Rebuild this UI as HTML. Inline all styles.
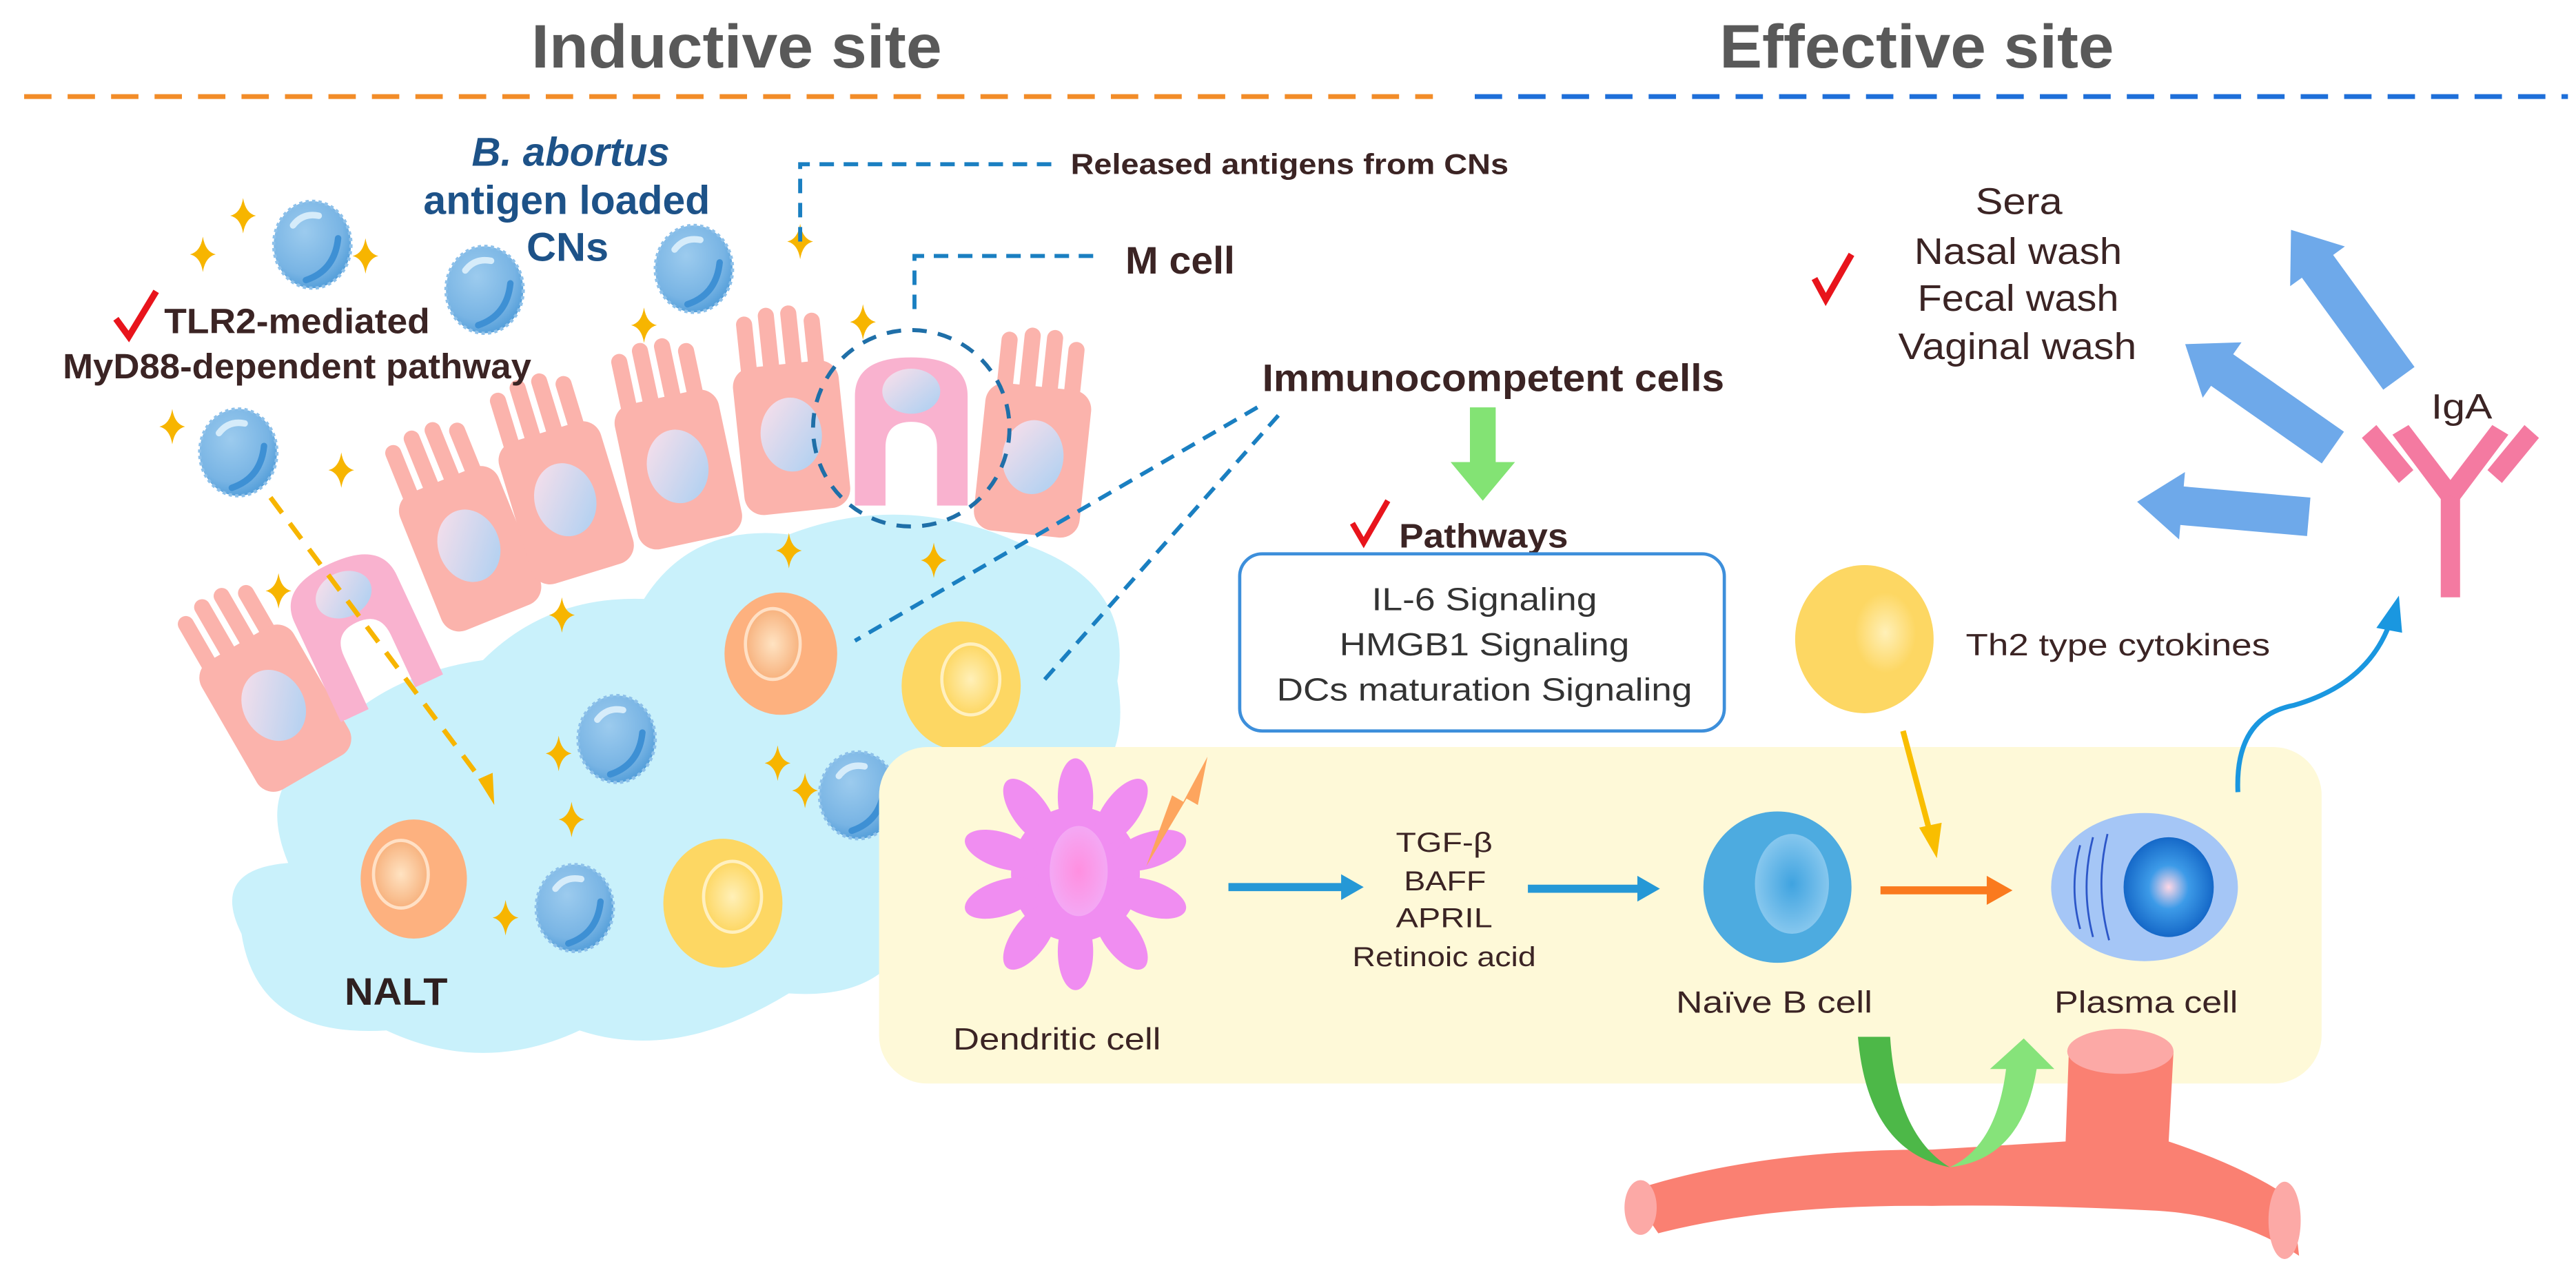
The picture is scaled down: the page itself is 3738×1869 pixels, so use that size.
<!DOCTYPE html>
<html><head><meta charset="utf-8"><style>
html,body{margin:0;padding:0;background:#fff;}
svg{display:block;}
text{font-family:"Liberation Sans",Arial,sans-serif;}
</style></head><body>
<svg width="3738" height="1869" viewBox="0 0 1600 800" xmlns="http://www.w3.org/2000/svg">
<defs>
<radialGradient id="cn" cx="40%" cy="35%" r="70%"><stop offset="0" stop-color="#9CCBEE"/><stop offset="0.7" stop-color="#78B4E4"/><stop offset="1" stop-color="#4E9BD8"/></radialGradient>
<linearGradient id="nuc" x1="0" y1="0" x2="1" y2="1"><stop offset="0" stop-color="#FCE0EA"/><stop offset="1" stop-color="#A9CFF2"/></linearGradient>
<radialGradient id="orn" cx="50%" cy="50%" r="50%"><stop offset="0" stop-color="#FFE3C2"/><stop offset="1" stop-color="#F7B27E"/></radialGradient>
<radialGradient id="yel" cx="50%" cy="50%" r="50%"><stop offset="0" stop-color="#FFF0B8"/><stop offset="1" stop-color="#FDD763"/></radialGradient>
<radialGradient id="dcn" cx="50%" cy="50%" r="50%"><stop offset="0" stop-color="#FF8FE0"/><stop offset="1" stop-color="#F4A8F4"/></radialGradient>
<radialGradient id="pl" cx="50%" cy="50%" r="55%"><stop offset="0" stop-color="#FFD7E6"/><stop offset="0.4" stop-color="#3D9BE8"/><stop offset="1" stop-color="#0E5FC2"/></radialGradient>
<radialGradient id="nb" cx="50%" cy="50%" r="50%"><stop offset="0" stop-color="#3FA3E0"/><stop offset="1" stop-color="#86C7EE"/></radialGradient>
<g id="sp"><path d="M0,-11 Q1.5,-1.5 8,0 Q1.5,1.5 0,11 Q-1.5,1.5 -8,0 Q-1.5,-1.5 0,-11Z" fill="#F7B500"/></g>
<g id="ball"><ellipse rx="24" ry="27" fill="url(#cn)" stroke="#8EC1EA" stroke-width="2" stroke-dasharray="2 2"/><path d="M-12,-12 Q-6,-20 4,-18" stroke="#D6ECFA" stroke-width="4" fill="none" stroke-linecap="round"/><path d="M16,-4 Q14,16 -4,22" stroke="#3E90D4" stroke-width="4" fill="none" stroke-linecap="round"/></g>
<g id="epi"><g fill="#FBB3AC"><rect x="-27" y="-62" width="10" height="50" rx="5"/><rect x="-13" y="-66" width="10" height="50" rx="5"/><rect x="1" y="-66" width="10" height="50" rx="5"/><rect x="15" y="-60" width="10" height="50" rx="5"/><rect x="-33" y="-30" width="66" height="92" rx="12"/></g><ellipse cx="0" cy="14" rx="19" ry="23" fill="url(#nuc)"/></g>
<g id="mcell"><path d="M-35,46 L-35,-22 Q-35,-46 0,-46 Q35,-46 35,-22 L35,46 L16,46 L16,10 Q16,-6 0,-6 Q-16,-6 -16,10 L-16,46Z" fill="#F9B2CF"/><ellipse cx="0" cy="-25" rx="18" ry="14" fill="url(#nuc)"/></g>
</defs>

<text x="330" y="42" font-size="38" font-weight="bold" fill="#595959" textLength="255" lengthAdjust="spacingAndGlyphs">Inductive site</text>
<text x="1068" y="42" font-size="38" font-weight="bold" fill="#595959" textLength="245" lengthAdjust="spacingAndGlyphs">Effective site</text>
<line x1="15" y1="60" x2="890" y2="60" stroke="#F28C28" stroke-width="3" stroke-dasharray="17 10"/>
<line x1="916" y1="60" x2="1595" y2="60" stroke="#1E6FD9" stroke-width="3" stroke-dasharray="17 10"/>

<g fill="#C9F1FB">
<path d="M400,372 Q430,325 490,332 Q560,305 633,337 Q705,360 694,423 Q705,485 650,500 Q615,560 571,561 Q560,622 490,617 Q420,660 360,640 Q300,668 240,640 Q160,645 150,580 Q130,540 179,536 Q160,490 194,470 Q230,420 300,410 Q340,370 400,372Z"/>
</g>

<use href="#epi" transform="translate(163,426) rotate(-30)"/>
<use href="#mcell" transform="translate(224,392) rotate(-25)"/>
<use href="#epi" transform="translate(286,326) rotate(-22)"/>
<use href="#epi" transform="translate(347,297) rotate(-17)"/>
<use href="#epi" transform="translate(418,276) rotate(-12)"/>
<use href="#epi" transform="translate(490,256) rotate(-6)"/>
<use href="#mcell" transform="translate(566,268)"/>
<use href="#epi" transform="translate(643,270) rotate(6)"/>
<circle cx="566" cy="266" r="61" fill="none" stroke="#1F6FA8" stroke-width="2.5" stroke-dasharray="9 7"/>

<use href="#ball" transform="translate(194,152)"/>
<use href="#ball" transform="translate(301,180)"/>
<use href="#ball" transform="translate(431,167)"/>
<use href="#ball" transform="translate(148,281)"/>
<use href="#ball" transform="translate(383,459)"/>
<use href="#ball" transform="translate(533,494)"/>
<use href="#ball" transform="translate(357,564)"/>

<ellipse cx="485" cy="406" rx="35" ry="38" fill="#FDB17F"/><ellipse cx="480" cy="400" rx="17" ry="22" fill="url(#orn)" stroke="#FFE0C5" stroke-width="2"/>
<ellipse cx="597" cy="426" rx="37" ry="40" fill="#FDD763"/><ellipse cx="603" cy="422" rx="18" ry="22" fill="url(#yel)" stroke="#FFF0C0" stroke-width="2"/>
<ellipse cx="257" cy="546" rx="33" ry="37" fill="#FDB17F"/><ellipse cx="249" cy="543" rx="17" ry="21" fill="url(#orn)" stroke="#FFE0C5" stroke-width="2"/>
<ellipse cx="449" cy="561" rx="37" ry="40" fill="#FDD763"/><ellipse cx="455" cy="557" rx="18" ry="22" fill="url(#yel)" stroke="#FFF0C0" stroke-width="2"/>
<text x="214" y="624" font-size="24" font-weight="bold" fill="#2F2020" textLength="64" lengthAdjust="spacingAndGlyphs">NALT</text>

<use href="#sp" transform="translate(151,134)"/><use href="#sp" transform="translate(126,158)"/><use href="#sp" transform="translate(227,159)"/>
<use href="#sp" transform="translate(497,150)"/><use href="#sp" transform="translate(400,202)"/><use href="#sp" transform="translate(536,200)"/>
<use href="#sp" transform="translate(107,265)"/><use href="#sp" transform="translate(212,292)"/><use href="#sp" transform="translate(173,367)"/>
<use href="#sp" transform="translate(349,382)"/><use href="#sp" transform="translate(490,342)"/><use href="#sp" transform="translate(580,348)"/>
<use href="#sp" transform="translate(347,468)"/><use href="#sp" transform="translate(483,474)"/><use href="#sp" transform="translate(500,491)"/>
<use href="#sp" transform="translate(355,509)"/><use href="#sp" transform="translate(314,570)"/>

<line x1="168" y1="309" x2="303" y2="490" stroke="#F7B500" stroke-width="3" stroke-dasharray="12 8"/>
<path d="M297,484 L307,500 L306,480Z" fill="#F7B500"/>

<text x="293" y="103" font-size="25" font-weight="bold" font-style="italic" fill="#1D5288" textLength="123" lengthAdjust="spacingAndGlyphs">B. abortus</text>
<text x="263" y="133" font-size="25" font-weight="bold" fill="#1D5288" textLength="178" lengthAdjust="spacingAndGlyphs">antigen loaded</text>
<text x="327" y="162" font-size="25" font-weight="bold" fill="#1D5288" textLength="51" lengthAdjust="spacingAndGlyphs">CNs</text>
<path d="M72,198 L80,209 L97,181" stroke="#E8141C" stroke-width="4" fill="none"/>
<text x="102" y="207" font-size="22" font-weight="bold" fill="#3B2424" textLength="165" lengthAdjust="spacingAndGlyphs">TLR2-mediated</text>
<text x="39" y="235" font-size="22" font-weight="bold" fill="#3B2424" textLength="291" lengthAdjust="spacingAndGlyphs">MyD88-dependent pathway</text>
<polyline points="497,150 497,102 653,102" fill="none" stroke="#1A7FC1" stroke-width="2.5" stroke-dasharray="9 6"/>
<text x="665" y="108" font-size="18" font-weight="bold" fill="#3B2424" textLength="272" lengthAdjust="spacingAndGlyphs">Released antigens from CNs</text>
<polyline points="568,192 568,159 684,159" fill="none" stroke="#1A7FC1" stroke-width="2.5" stroke-dasharray="9 6"/>
<text x="699" y="170" font-size="24" font-weight="bold" fill="#3B2424" textLength="68" lengthAdjust="spacingAndGlyphs">M cell</text>
<text x="784" y="243" font-size="24" font-weight="bold" fill="#3B2424" textLength="287" lengthAdjust="spacingAndGlyphs">Immunocompetent cells</text>
<line x1="781" y1="253" x2="531" y2="398" stroke="#1A7FC1" stroke-width="2.5" stroke-dasharray="9 6"/>
<line x1="794" y1="258" x2="648" y2="423" stroke="#1A7FC1" stroke-width="2.5" stroke-dasharray="9 6"/>

<path d="M913,253 L929,253 L929,287 L941,287 L921,311 L901,287 L913,287Z" fill="#83E374"/>
<path d="M840,325 L847,337 L862,311" stroke="#E8141C" stroke-width="3.5" fill="none"/>
<text x="869" y="340" font-size="21" font-weight="bold" fill="#3B2424" textLength="105" lengthAdjust="spacingAndGlyphs">Pathways</text>
<rect x="770" y="344" width="301" height="110" rx="14" fill="#fff" stroke="#3D8FDB" stroke-width="2"/>
<text x="852" y="379" font-size="20" fill="#333" textLength="140" lengthAdjust="spacingAndGlyphs">IL-6 Signaling</text>
<text x="832" y="407" font-size="20" fill="#333" textLength="180" lengthAdjust="spacingAndGlyphs">HMGB1 Signaling</text>
<text x="793" y="435" font-size="20" fill="#333" textLength="258" lengthAdjust="spacingAndGlyphs">DCs maturation Signaling</text>

<rect x="546" y="464" width="896" height="209" rx="30" fill="#FEF9D8"/>

<g fill="#F08DF1" transform="translate(668,543)">
<ellipse rx="40" ry="42"/>
<g id="pet"><ellipse cx="0" cy="-48" rx="11" ry="24"/></g>
<use href="#pet" transform="rotate(36)"/><use href="#pet" transform="rotate(72)"/><use href="#pet" transform="rotate(108)"/><use href="#pet" transform="rotate(144)"/>
<use href="#pet" transform="rotate(180)"/><use href="#pet" transform="rotate(216)"/><use href="#pet" transform="rotate(252)"/><use href="#pet" transform="rotate(288)"/><use href="#pet" transform="rotate(324)"/>
</g>
<ellipse cx="670" cy="541" rx="18" ry="28" fill="url(#dcn)"/>
<path d="M750,470 L744,500 L737,496 L712,538 L728,494 L735,498Z" fill="#FDA55E"/>
<text x="592" y="652" font-size="19" fill="#3B2424" textLength="129" lengthAdjust="spacingAndGlyphs">Dendritic cell</text>

<line x1="763" y1="551" x2="835" y2="551" stroke="#2598D6" stroke-width="5"/><path d="M833,543 L847,551 L833,559Z" fill="#2598D6"/>
<line x1="949" y1="552" x2="1019" y2="552" stroke="#2598D6" stroke-width="5"/><path d="M1017,544 L1031,552 L1017,560Z" fill="#2598D6"/>
<text x="867" y="529" font-size="17" fill="#3B2424" textLength="60" lengthAdjust="spacingAndGlyphs">TGF-β</text>
<text x="872" y="553" font-size="17" fill="#3B2424" textLength="51" lengthAdjust="spacingAndGlyphs">BAFF</text>
<text x="867" y="576" font-size="17" fill="#3B2424" textLength="60" lengthAdjust="spacingAndGlyphs">APRIL</text>
<text x="840" y="600" font-size="17" fill="#3B2424" textLength="114" lengthAdjust="spacingAndGlyphs">Retinoic acid</text>

<ellipse cx="1104" cy="551" rx="46" ry="47" fill="#4DABE0"/><ellipse cx="1113" cy="549" rx="23" ry="31" fill="url(#nb)"/>
<text x="1041" y="629" font-size="19" fill="#3B2424" textLength="122" lengthAdjust="spacingAndGlyphs">Naïve B cell</text>
<line x1="1168" y1="553" x2="1236" y2="553" stroke="#FA7A1E" stroke-width="5"/><path d="M1234,544 L1250,553 L1234,562Z" fill="#FA7A1E"/>
<line x1="1182" y1="454" x2="1199" y2="518" stroke="#F9BE00" stroke-width="3.5"/><path d="M1192,514 L1203,533 L1206,511Z" fill="#F9BE00"/>
<ellipse cx="1332" cy="551" rx="58" ry="46" fill="#A5C6F6"/>
<path d="M1292,525 Q1285,551 1292,577 M1300,520 Q1292,551 1300,582 M1309,518 Q1301,551 1310,584" stroke="#2C56C8" stroke-width="1.2" fill="none"/>
<ellipse cx="1347" cy="551" rx="28" ry="31" fill="url(#pl)"/>
<text x="1276" y="629" font-size="19" fill="#3B2424" textLength="114" lengthAdjust="spacingAndGlyphs">Plasma cell</text>

<ellipse cx="1158" cy="397" rx="43" ry="46" fill="#FDD763"/><ellipse cx="1171" cy="393" rx="19" ry="25" fill="url(#yel)"/>
<text x="1221" y="407" font-size="19" fill="#3B2424" textLength="189" lengthAdjust="spacingAndGlyphs">Th2 type cytokines</text>

<path d="M1390,492 Q1388,445 1425,438 Q1470,425 1484,388" stroke="#1A97E0" stroke-width="3" fill="none"/>
<path d="M1476,390 L1490,370 L1492,393Z" fill="#1A97E0"/>

<g fill="#F47AA1">
<rect x="1516" y="305" width="12" height="66"/>
<path d="M1516,310 L1486,270 L1496,264 L1528,306Z"/><path d="M1528,310 L1558,270 L1548,264 L1516,306Z"/>
<path d="M1490,300 L1467,272 L1476,264 L1499,292Z"/><path d="M1554,300 L1577,272 L1568,264 L1545,292Z"/>
</g>
<text x="1510" y="260" font-size="22" fill="#3B2424" textLength="38" lengthAdjust="spacingAndGlyphs">IgA</text>

<g fill="#6EA9EA">
<path transform="translate(1490,235) rotate(-126)" d="M0,-12 L86,-12 L86,-21 L114,0 L86,21 L86,12 L0,12Z"/>
<path transform="translate(1449,278) rotate(-145)" d="M0,-12 L84,-12 L84,-21 L112,0 L84,21 L84,12 L0,12Z"/>
<path transform="translate(1434,321) rotate(-175)" d="M0,-12 L79,-12 L79,-21 L107,0 L79,21 L79,12 L0,12Z"/>
</g>
<path d="M1127,173 L1134,186 L1150,158" stroke="#E8141C" stroke-width="4" fill="none"/>
<text x="1227" y="133" font-size="23" fill="#3B2424" textLength="54" lengthAdjust="spacingAndGlyphs">Sera</text>
<text x="1189" y="164" font-size="23" fill="#3B2424" textLength="129" lengthAdjust="spacingAndGlyphs">Nasal wash</text>
<text x="1191" y="193" font-size="23" fill="#3B2424" textLength="125" lengthAdjust="spacingAndGlyphs">Fecal wash</text>
<text x="1179" y="223" font-size="23" fill="#3B2424" textLength="148" lengthAdjust="spacingAndGlyphs">Vaginal wash</text>

<path d="M1012,740 Q1090,714 1200,714 L1283,709 L1285,653 L1350,653 L1347,709 Q1395,725 1424,745 L1428,780 Q1390,755 1340,752 Q1260,748 1200,749 Q1100,748 1030,766Z" fill="#FA8072"/>
<ellipse cx="1019" cy="750" rx="10" ry="17" fill="#FCA9A6"/>
<ellipse cx="1419" cy="758" rx="10" ry="24" fill="#FCA9A6"/>
<ellipse cx="1317" cy="653" rx="33" ry="14" fill="#FCA9A6"/>

<path d="M1154,644 L1174,644 Q1178,705 1211,725 Q1160,715 1154,644Z" fill="#4DB848"/>
<path d="M1211,725 Q1240,712 1246,664 L1236,664 L1257,645 L1276,664 L1265,664 Q1256,720 1211,725Z" fill="#86E37A"/>
</svg>
</body></html>
